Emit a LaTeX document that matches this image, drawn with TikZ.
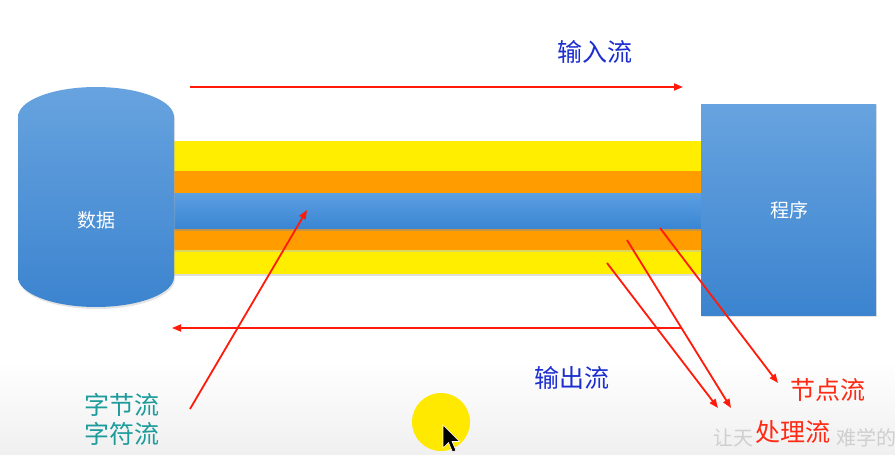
\documentclass[tikz,border=0pt]{standalone}
\usepackage{fontspec}
\newfontfamily\cjk{Noto Sans CJK SC}
\usetikzlibrary{arrows.meta,calc}
\definecolor{bandyellow}{HTML}{FFEE00}
\definecolor{bandorange}{HTML}{FF9C00}
\definecolor{bluetop}{HTML}{67A3DF}
\definecolor{bluebot}{HTML}{3C84CF}
\definecolor{bartop}{HTML}{5C9FE2}
\definecolor{barbot}{HTML}{3A86D3}
\definecolor{arrowred}{HTML}{FF1A0A}
\definecolor{textblue}{HTML}{1C2ECF}
\definecolor{textteal}{HTML}{1E9C9C}
\definecolor{textred}{HTML}{FF2A14}
\definecolor{wmgray}{HTML}{CFCFCF}
\definecolor{hiyellow}{HTML}{FFE900}
\begin{document}
\begin{tikzpicture}[x=1pt,y=-1pt,
  redarrow/.style={draw=arrowred, line width=1.8pt, -{Triangle[length=9pt,width=7pt]}},
  lbl/.style={font=\cjk\fontsize{25}{30}\selectfont, inner sep=0pt},
  wlbl/.style={font=\cjk\fontsize{19}{22}\selectfont, inner sep=0pt, text=white},
  wmark/.style={font=\cjk\fontsize{20}{22}\selectfont, text=wmgray, inner sep=0pt, anchor=west},
  bluefill/.style={top color=bluetop, bottom color=bluebot, draw=none}
]
\useasboundingbox (0,0) rectangle (895,455);
\fill[white] (0,0) rectangle (895,455);
\shade[top color=white, bottom color=black!6] (0,360) rectangle (895,455);

% bands
\fill[bandyellow] (172,141) rectangle (701,171);
\fill[bandorange] (172,171) rectangle (701,193);
\fill[bandorange] (172,228) rectangle (701,250);
\fill[bandyellow] (172,250) rectangle (701,274);
\fill[black!25, opacity=0.5] (172,250) rectangle (701,251.5);
\fill[black!25, opacity=0.5] (172,274) rectangle (701,275.5);
% blue bar with shadow
\fill[black!45, opacity=0.5] (173,228) rectangle (702,230.5);
\shade[top color=bartop, bottom color=barbot] (173,193) rectangle (702,228);

% database cylinder
\fill[black!30, opacity=0.35] (19,119) -- (19,279) arc (180:0:78 and 30) -- (175,119) arc (0:-180:78 and 30) -- cycle;
\shade[bluefill] (18,117) -- (18,277) arc (180:0:78 and 30) -- (174,117) arc (0:-180:78 and 30) -- cycle;
\node[wlbl] (data) at (96,220) {数据};

% program box
\fill[black!30, opacity=0.35] (702,105) rectangle (877,317);
\node[bluefill, minimum width=175pt, minimum height=211pt, inner sep=0pt, anchor=north west] (prog) at (701,104) {};
\node[wlbl] (progtxt) at (789,210) {程序};

% cursor highlight
\fill[hiyellow] (441,422) circle[radius=29];
\fill[black, draw=white, line width=0.6pt] (443,425) -- (443,448) -- (448.5,442.5) -- (452.5,452) -- (456,450.5) -- (452,441.5) -- (459.5,441.5) -- cycle;

% watermark (visible parts only)
\node[wmark] (wmA) at (713,438) {让天};
\node[wmark] (wmB) at (836,438) {难学的};

% labels
\node[lbl, text=textblue] (inlbl) at (595,52) {输入流};
\node[lbl, text=textblue] (outlbl) at (572,378) {输出流};
\node[lbl, text=textteal, align=left] (charlbl) at (122,419) {字节流\\[-1pt]字符流};
\node[lbl, text=textred] (nodelbl) at (828,390) {节点流};
\node[lbl, text=textred] (proclbl) at (793,432) {处理流};

% connector coordinates
\coordinate (inS) at (190,87);
\coordinate (inE) at (683,87);
\coordinate (bS) at (190,409);
\coordinate (bE) at (307,210);
\coordinate (nS) at (660,228);
\coordinate (nE) at (778,383);
\coordinate (pAS) at (627,240);
\coordinate (pAE) at (731,408);
\coordinate (pBS) at (607,263);
\coordinate (pBE) at (718,408);
\coordinate (outS) at ($(pAS)!0.524!(pAE)$);
\coordinate (outE) at (172,328);

\draw[redarrow] (inS) -- (inE);
\draw[redarrow] (bS) -- (bE);
\draw[redarrow] (nS) -- (nE);
\draw[redarrow] (pAS) -- (pAE);
\draw[redarrow] (pBS) -- (pBE);
\draw[redarrow] (outS) -- (outE);
\end{tikzpicture}
\end{document}
